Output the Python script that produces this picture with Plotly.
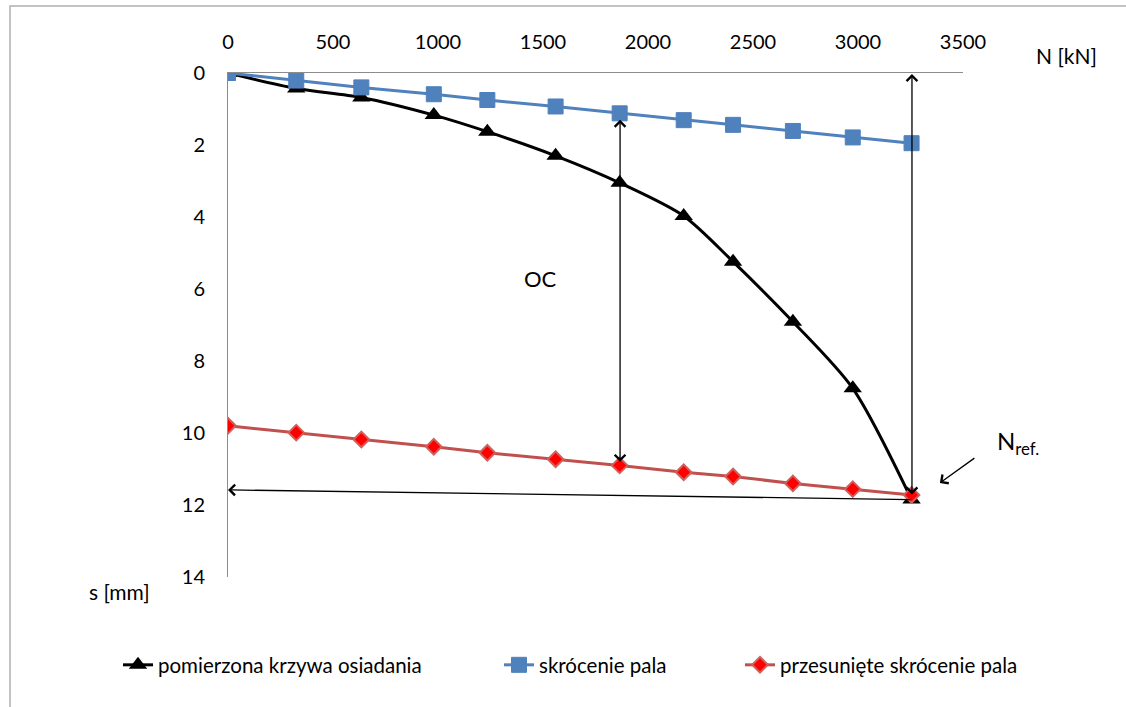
import plotly.graph_objects as go

# ---- data ----
load_kN = [0, 325, 635, 980, 1235, 1560, 1865, 2170, 2405, 2690, 2975, 3255]
settlement_measured = [0, 0.43, 0.68, 1.17, 1.63, 2.3, 3.05, 3.97, 5.24, 6.91, 8.76, 11.85]
pile_shortening = [0, 0.21, 0.4, 0.59, 0.75, 0.93, 1.12, 1.31, 1.44, 1.61, 1.79, 1.95]
shifted_shortening = [9.8, 9.99, 10.18, 10.38, 10.55, 10.73, 10.9, 11.09, 11.21, 11.4, 11.56, 11.72]

x_ticks = [0, 500, 1000, 1500, 2000, 2500, 3000, 3500]
y_ticks = [0, 2, 4, 6, 8, 10, 12, 14]

name_measured = "pomierzona krzywa osiadania"
name_short = "skrócenie pala"
name_shifted = "przesunięte skrócenie pala"

# arrows (data coordinates)
oc_x = 1867
oc_top, oc_bottom = 1.26, 10.8
ref_x = 3257
ref_top, ref_bottom = 0.03, 11.75
horiz_from = (3257, 11.85)
horiz_to = (0, 11.58)
nref_head = (3390, 11.39)

FONT = "Lato, 'Open Sans', sans-serif"
W, H = 1126, 707
L, R, T, B = 228, 163, 73, 130
PW, PH = W - L - R, H - T - B


def px_to_paper(px, py):
    return (px - L) / PW, (H - B - py) / PH


fig = go.Figure()

fig.add_trace(go.Scatter(
    x=load_kN, y=settlement_measured, name=name_measured, mode="lines+markers",
    line=dict(color="#000000", width=3, shape="spline", smoothing=0.8),
    marker=dict(symbol="triangle-up", size=16, color="#000000"),
    legend="legend",
))
fig.add_trace(go.Scatter(
    x=load_kN, y=pile_shortening, name=name_short, mode="lines+markers",
    line=dict(color="#4F81BD", width=3),
    marker=dict(symbol="square", size=15, color="#4F81BD", line=dict(color="#4F81BD", width=1)),
    legend="legend2",
))
fig.add_trace(go.Scatter(
    x=load_kN, y=shifted_shortening, name=name_shifted, mode="lines+markers",
    line=dict(color="#C0504D", width=3),
    marker=dict(symbol="diamond", size=12, color="#FF0000", line=dict(color="#D0605D", width=2)),
    legend="legend3",
))

annotations = []
arrow_common = dict(showarrow=True, arrowhead=4, arrowsize=1.6, arrowwidth=1.3,
                    arrowcolor="#000000", text="", xref="x", yref="y", axref="x", ayref="y")
annotations.append(dict(x=oc_x, y=oc_bottom, ax=oc_x, ay=oc_top, arrowside="end+start",
                        startarrowhead=4, startarrowsize=1.6, **arrow_common))
annotations.append(dict(x=ref_x, y=ref_top, ax=ref_x, ay=ref_bottom, arrowside="end+start",
                        startarrowhead=4, startarrowsize=1.6, **arrow_common))
annotations.append(dict(x=horiz_to[0], y=horiz_to[1], ax=horiz_from[0], ay=horiz_from[1],
                        arrowside="end", **arrow_common))
annotations.append(dict(x=nref_head[0], y=nref_head[1], ax=36, ay=-26, axref="pixel", ayref="pixel",
                        xref="x", yref="y", showarrow=True, arrowhead=4, arrowsize=1.6,
                        arrowwidth=1.3, arrowcolor="#000000", text=""))

annotations.append(dict(x=1486, y=5.72, xref="x", yref="y", text="OC", showarrow=False,
                        font=dict(family=FONT, size=22, color="#000000")))

nx, ny = px_to_paper(995, 442)
annotations.append(dict(x=nx, y=ny, xref="paper", yref="paper", text="N<sub>ref.</sub>",
                        showarrow=False, xanchor="left", yanchor="middle",
                        font=dict(family=FONT, size=24, color="#000000")))
kx, ky = px_to_paper(1066, 56)
annotations.append(dict(x=kx, y=ky, xref="paper", yref="paper", text="N [kN]",
                        showarrow=False, xanchor="center", yanchor="middle",
                        font=dict(family=FONT, size=21, color="#000000")))
sx, sy = px_to_paper(119, 591)
annotations.append(dict(x=sx, y=sy, xref="paper", yref="paper", text="s [mm]",
                        showarrow=False, xanchor="center", yanchor="middle",
                        font=dict(family=FONT, size=21, color="#000000")))

bx0, by0 = px_to_paper(10, 6)
bx1, by1 = px_to_paper(1140, 720)

legend_font = dict(family=FONT, size=20.5, color="#000000")
ly = (H - B - 665) / PH


def leg(px):
    return dict(orientation="h", x=(px - L) / PW, y=ly, xanchor="left", yanchor="middle",
                font=legend_font, bgcolor="rgba(0,0,0,0)", itemwidth=30,
                tracegroupgap=0, borderwidth=0)


fig.update_layout(
    width=W, height=H,
    margin=dict(l=L, r=R, t=T, b=B, autoexpand=False),
    paper_bgcolor="#FFFFFF", plot_bgcolor="#FFFFFF",
    font=dict(family=FONT, size=20, color="#000000"),
    showlegend=True,
    legend=leg(118), legend2=leg(499), legend3=leg(740),
    annotations=annotations,
    shapes=[dict(type="rect", xref="paper", yref="paper", x0=bx0, y0=by0, x1=bx1, y1=by1,
                 line=dict(color="#B0B0B0", width=1.5), layer="below")],
    xaxis=dict(side="top", range=[0, 3500], tickvals=x_ticks, showgrid=False, zeroline=False,
               showline=True, linecolor="#8C8C8C", linewidth=1, ticks="",
               ticklabelstandoff=15, automargin=False,
               tickfont=dict(family=FONT, size=20, color="#000000")),
    yaxis=dict(range=[14, 0], tickvals=y_ticks, showgrid=False, zeroline=False,
               showline=True, linecolor="#8C8C8C", linewidth=1, ticks="",
               ticklabelstandoff=18, automargin=False,
               tickfont=dict(family=FONT, size=20, color="#000000")),
)

fig.write_html(
    "out.html",
    config={"displayModeBar": False},
    post_script="document.body.style.margin='0';document.body.style.overflow='hidden';",
)
